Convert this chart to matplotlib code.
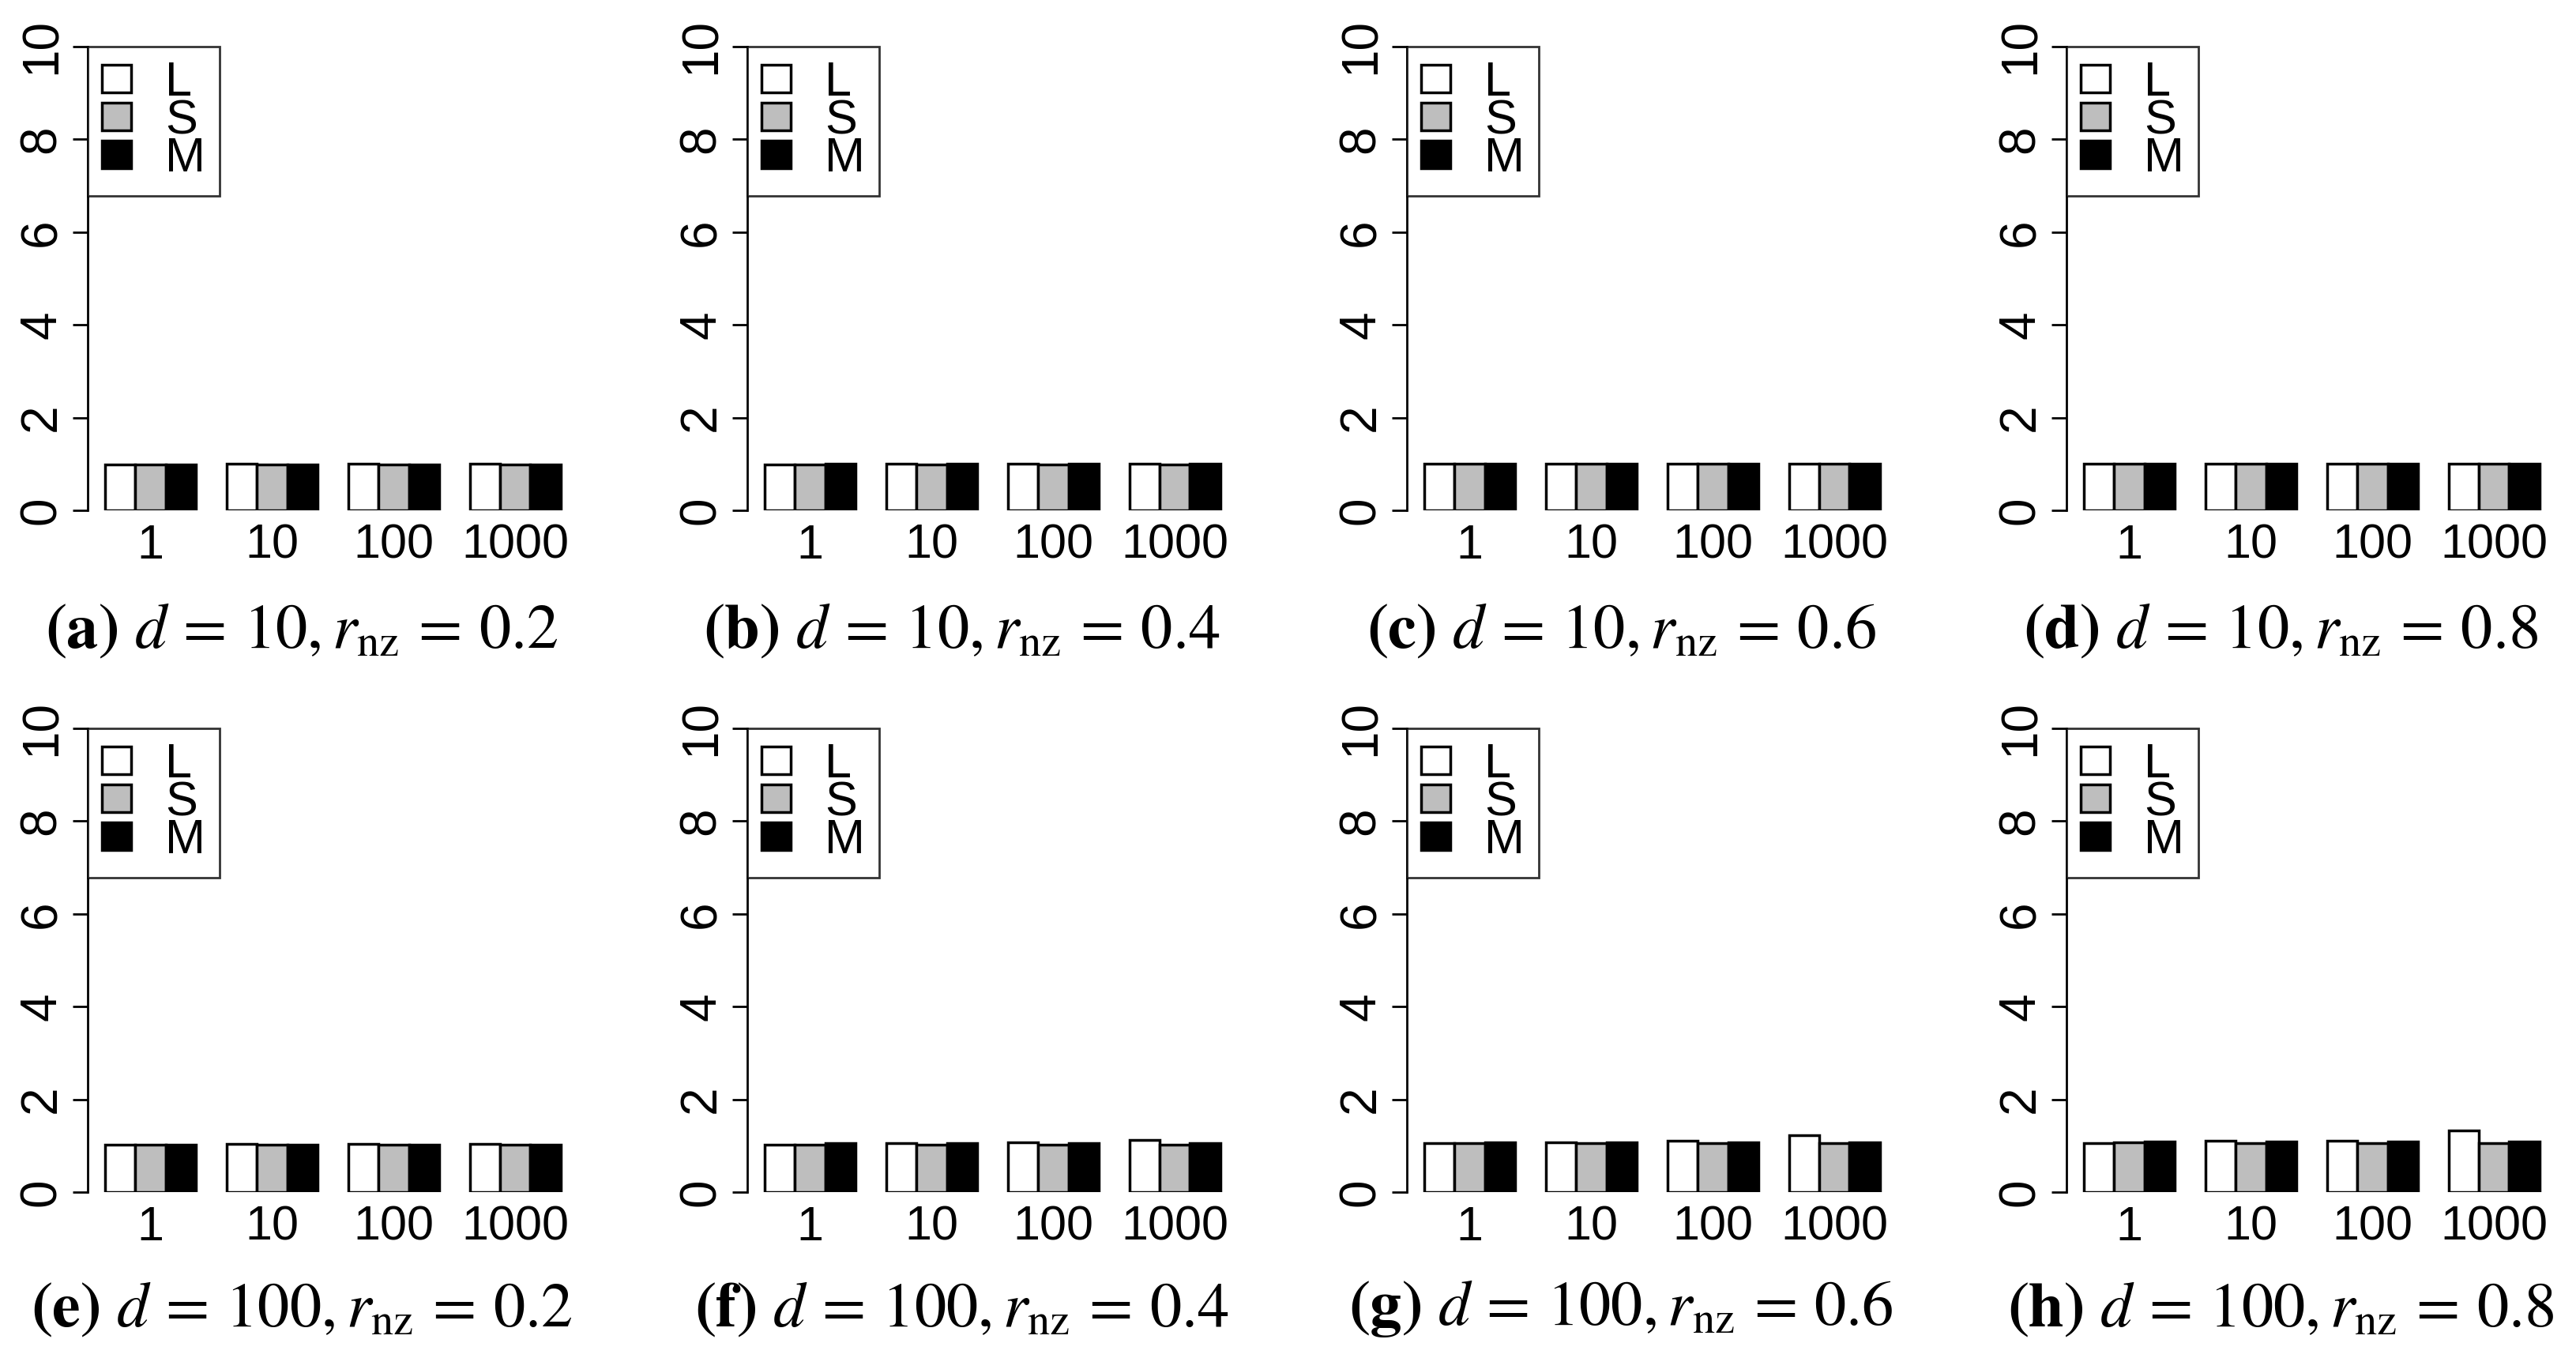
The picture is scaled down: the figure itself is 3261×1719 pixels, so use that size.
import matplotlib
matplotlib.use("Agg")
import matplotlib.pyplot as plt
import numpy as np

groups = ["1", "10", "100", "1000"]
series = ["L", "S", "M"]
colors = ["white", "#bebebe", "black"]
captions = [r"$\mathbf{(a)}\ d\,=\,10, r_{\rm nz}\,=\,0.2$",
            r"$\mathbf{(b)}\ d\,=\,10, r_{\rm nz}\,=\,0.4$",
            r"$\mathbf{(c)}\ d\,=\,10, r_{\rm nz}\,=\,0.6$",
            r"$\mathbf{(d)}\ d\,=\,10, r_{\rm nz}\,=\,0.8$",
            r"$\mathbf{(e)}\ d\,=\,100, r_{\rm nz}\,=\,0.2$",
            r"$\mathbf{(f)}\ d\,=\,100, r_{\rm nz}\,=\,0.4$",
            r"$\mathbf{(g)}\ d\,=\,100, r_{\rm nz}\,=\,0.6$",
            r"$\mathbf{(h)}\ d\,=\,100, r_{\rm nz}\,=\,0.8$"]
# values[panel][group] = [L, S, M]
values = [
    [[0.99, 0.98, 0.99], [1.00, 0.98, 0.99], [1.00, 0.98, 0.99], [1.00, 0.98, 0.99]],
    [[0.99, 0.99, 1.00], [1.00, 0.98, 1.00], [1.00, 0.98, 1.00], [1.00, 0.98, 1.00]],
    [[1.00, 1.00, 1.00], [1.00, 1.00, 1.00], [1.00, 1.00, 1.00], [1.00, 1.00, 1.00]],
    [[1.00, 1.00, 1.00], [1.00, 1.00, 1.00], [1.00, 1.00, 1.00], [1.00, 1.00, 1.00]],
    [[1.02, 1.02, 1.02], [1.04, 1.02, 1.03], [1.04, 1.02, 1.03], [1.04, 1.02, 1.03]],
    [[1.03, 1.03, 1.05], [1.06, 1.03, 1.05], [1.07, 1.03, 1.05], [1.12, 1.03, 1.05]],
    [[1.05, 1.06, 1.07], [1.08, 1.05, 1.07], [1.10, 1.05, 1.07], [1.22, 1.05, 1.07]],
    [[1.06, 1.07, 1.09], [1.10, 1.06, 1.09], [1.10, 1.06, 1.09], [1.33, 1.06, 1.09]],
]

W, H = 3262, 1719
fig = plt.figure(figsize=(W/100, H/100), dpi=100)
colw = 835
rows_y = [(59, 646, 797), (922, 1509, 1656)]
for p in range(8):
    r, c = divmod(p, 4)
    top, zero, capy = rows_y[r]
    x0 = c*colw + 111
    x1 = x0 + 622
    ax = fig.add_axes([x0/W, 1 - zero/H, (x1-x0)/W, (zero-top)/H])
    for g in range(4):
        for s in range(3):
            xpos = 1 + g*4 + s
            ax.bar(xpos + 0.5, values[p][g][s], width=1, color=colors[s],
                   edgecolor="black", linewidth=2.5, label=series[s] if g == 0 else None)
    ax.set_xlim(0.43, 16.6)
    ax.set_ylim(0, 10)
    for sp in ["top", "right", "bottom"]:
        ax.spines[sp].set_visible(False)
    ax.spines["left"].set_linewidth(2)
    ax.set_yticks([0, 2, 4, 6, 8, 10])
    ax.tick_params(axis="y", length=14, width=2, labelsize=46, pad=6)
    for t in ax.get_yticklabels():
        t.set_rotation(90); t.set_va("center"); t.set_family("Liberation Sans")
    ax.set_xticks([2.5 + 4*g for g in range(4)])
    ax.set_xticklabels(groups, fontsize=44, family="Liberation Sans")
    ax.tick_params(axis="x", length=0, pad=12)
    leg = ax.legend(loc="upper left", bbox_to_anchor=(0, 1), borderaxespad=0,
                    frameon=True, fancybox=False, edgecolor="black",
                    handlelength=0.6, handleheight=0.5, labelspacing=-0.15,
                    borderpad=0.3, handletextpad=0.7, prop={"family": "Liberation Sans", "size": 44})
    leg.get_frame().set_linewidth(2)
    fig.text((x0 + 271)/W, 1 - capy/H, captions[p], ha="center", va="center",
             fontsize=58, math_fontfamily="stix")

fig.savefig("out.png", dpi=100)
